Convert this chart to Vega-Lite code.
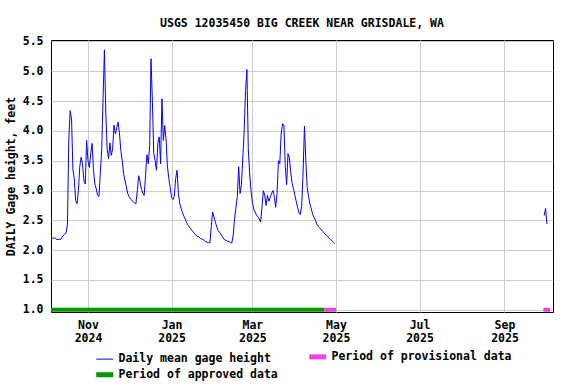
{
  "$schema": "https://vega.github.io/schema/vega-lite/v6.json",
  "width": 502,
  "height": 272,
  "autosize": {"type": "none"},
  "padding": {"left": 51, "top": 40, "right": 23, "bottom": 72},
  "background": "white",
  "title": {"text": "USGS 12035450 BIG CREEK NEAR GRISDALE, WA", "font": "DejaVu Sans Mono", "fontSize": 11.5, "fontWeight": "bold", "color": "black", "offset": 6, "anchor": "middle"},
  "config": {
    "view": {"stroke": "black", "strokeWidth": 1},
    "axis": {"labelFont": "DejaVu Sans Mono", "labelFontWeight": "bold", "labelFontSize": 11.5, "labelColor": "black", "titleFont": "DejaVu Sans Mono", "titleFontWeight": "bold", "titleFontSize": 11.5, "titleColor": "black", "gridColor": "#cccccc", "gridWidth": 1, "gridOpacity": 1, "ticks": false, "domain": false, "labelOverlap": false}
  },
  "datasets": {
    "gage": [
      {"date":"2024-10-05","v":2.20},{"date":"2024-10-06","v":2.20},{"date":"2024-10-07","v":2.20},{"date":"2024-10-08","v":2.21},{"date":"2024-10-09","v":2.18},{"date":"2024-10-10","v":2.18},{"date":"2024-10-11","v":2.18},{"date":"2024-10-12","v":2.18},{"date":"2024-10-13","v":2.22},{"date":"2024-10-14","v":2.25},{"date":"2024-10-15","v":2.27},{"date":"2024-10-16","v":2.29},{"date":"2024-10-17","v":2.43},{"date":"2024-10-18","v":3.86},{"date":"2024-10-19","v":4.34},{"date":"2024-10-20","v":4.20},{"date":"2024-10-21","v":3.35},{"date":"2024-10-22","v":3.20},{"date":"2024-10-23","v":2.83},{"date":"2024-10-24","v":2.78},{"date":"2024-10-25","v":3.00},{"date":"2024-10-26","v":3.40},{"date":"2024-10-27","v":3.56},{"date":"2024-10-28","v":3.45},{"date":"2024-10-29","v":3.17},{"date":"2024-10-30","v":3.11},{"date":"2024-10-31","v":3.84},
      {"date":"2024-11-01","v":3.50},{"date":"2024-11-02","v":3.39},{"date":"2024-11-03","v":3.62},{"date":"2024-11-04","v":3.79},{"date":"2024-11-05","v":3.35},{"date":"2024-11-06","v":3.11},{"date":"2024-11-07","v":3.03},{"date":"2024-11-08","v":2.92},{"date":"2024-11-09","v":2.90},{"date":"2024-11-10","v":3.29},{"date":"2024-11-11","v":3.68},{"date":"2024-11-12","v":4.54},{"date":"2024-11-13","v":5.36},{"date":"2024-11-14","v":4.30},{"date":"2024-11-15","v":3.70},{"date":"2024-11-16","v":3.53},{"date":"2024-11-17","v":3.80},{"date":"2024-11-18","v":3.59},{"date":"2024-11-19","v":3.70},{"date":"2024-11-20","v":4.10},{"date":"2024-11-21","v":3.95},{"date":"2024-11-22","v":4.05},{"date":"2024-11-23","v":4.15},{"date":"2024-11-24","v":3.95},{"date":"2024-11-25","v":3.67},{"date":"2024-11-26","v":3.50},{"date":"2024-11-27","v":3.28},{"date":"2024-11-28","v":3.17},{"date":"2024-11-29","v":3.06},{"date":"2024-11-30","v":2.95},
      {"date":"2024-12-01","v":2.90},{"date":"2024-12-02","v":2.86},{"date":"2024-12-03","v":2.84},{"date":"2024-12-04","v":2.81},{"date":"2024-12-05","v":2.79},{"date":"2024-12-06","v":2.78},{"date":"2024-12-07","v":3.00},{"date":"2024-12-08","v":3.25},{"date":"2024-12-09","v":3.15},{"date":"2024-12-10","v":3.02},{"date":"2024-12-11","v":2.96},{"date":"2024-12-12","v":2.92},{"date":"2024-12-13","v":3.25},{"date":"2024-12-14","v":3.60},{"date":"2024-12-15","v":3.45},{"date":"2024-12-16","v":3.75},{"date":"2024-12-17","v":5.21},{"date":"2024-12-18","v":4.50},{"date":"2024-12-19","v":3.62},{"date":"2024-12-20","v":3.50},{"date":"2024-12-21","v":3.34},{"date":"2024-12-22","v":3.80},{"date":"2024-12-23","v":3.90},{"date":"2024-12-24","v":3.45},{"date":"2024-12-25","v":4.54},{"date":"2024-12-26","v":3.84},{"date":"2024-12-27","v":4.09},{"date":"2024-12-28","v":3.85},{"date":"2024-12-29","v":3.40},{"date":"2024-12-30","v":3.20},{"date":"2024-12-31","v":3.05},
      {"date":"2025-01-01","v":2.88},{"date":"2025-01-02","v":2.85},{"date":"2025-01-03","v":2.90},{"date":"2025-01-04","v":3.20},{"date":"2025-01-05","v":3.34},{"date":"2025-01-06","v":2.95},{"date":"2025-01-07","v":2.78},{"date":"2025-01-08","v":2.70},{"date":"2025-01-09","v":2.63},{"date":"2025-01-10","v":2.57},{"date":"2025-01-11","v":2.52},{"date":"2025-01-12","v":2.46},{"date":"2025-01-13","v":2.42},{"date":"2025-01-14","v":2.39},{"date":"2025-01-15","v":2.36},{"date":"2025-01-16","v":2.33},{"date":"2025-01-17","v":2.30},{"date":"2025-01-18","v":2.27},{"date":"2025-01-19","v":2.25},{"date":"2025-01-20","v":2.23},{"date":"2025-01-21","v":2.22},{"date":"2025-01-22","v":2.20},{"date":"2025-01-23","v":2.19},{"date":"2025-01-24","v":2.18},{"date":"2025-01-25","v":2.16},{"date":"2025-01-26","v":2.14},{"date":"2025-01-27","v":2.13},{"date":"2025-01-28","v":2.13},{"date":"2025-01-29","v":2.12},{"date":"2025-01-30","v":2.40},{"date":"2025-01-31","v":2.64},
      {"date":"2025-02-01","v":2.55},{"date":"2025-02-02","v":2.47},{"date":"2025-02-03","v":2.39},{"date":"2025-02-04","v":2.33},{"date":"2025-02-05","v":2.30},{"date":"2025-02-06","v":2.27},{"date":"2025-02-07","v":2.23},{"date":"2025-02-08","v":2.19},{"date":"2025-02-09","v":2.17},{"date":"2025-02-10","v":2.16},{"date":"2025-02-11","v":2.15},{"date":"2025-02-12","v":2.14},{"date":"2025-02-13","v":2.13},{"date":"2025-02-14","v":2.12},{"date":"2025-02-15","v":2.25},{"date":"2025-02-16","v":2.53},{"date":"2025-02-17","v":2.72},{"date":"2025-02-18","v":2.90},{"date":"2025-02-19","v":3.40},{"date":"2025-02-20","v":2.95},{"date":"2025-02-21","v":3.10},{"date":"2025-02-22","v":3.55},{"date":"2025-02-23","v":4.00},{"date":"2025-02-24","v":4.68},{"date":"2025-02-25","v":5.03},{"date":"2025-02-26","v":3.70},{"date":"2025-02-27","v":3.28},{"date":"2025-02-28","v":3.00},
      {"date":"2025-03-01","v":2.80},{"date":"2025-03-02","v":2.69},{"date":"2025-03-03","v":2.64},{"date":"2025-03-04","v":2.59},{"date":"2025-03-05","v":2.56},{"date":"2025-03-06","v":2.53},{"date":"2025-03-07","v":2.47},{"date":"2025-03-08","v":2.72},{"date":"2025-03-09","v":3.00},{"date":"2025-03-10","v":2.92},{"date":"2025-03-11","v":2.75},{"date":"2025-03-12","v":2.92},{"date":"2025-03-13","v":2.82},{"date":"2025-03-14","v":2.88},{"date":"2025-03-15","v":2.95},{"date":"2025-03-16","v":3.00},{"date":"2025-03-17","v":2.90},{"date":"2025-03-18","v":2.72},{"date":"2025-03-19","v":2.95},{"date":"2025-03-20","v":3.50},{"date":"2025-03-21","v":3.45},{"date":"2025-03-22","v":3.95},{"date":"2025-03-23","v":4.12},{"date":"2025-03-24","v":4.10},{"date":"2025-03-25","v":3.40},{"date":"2025-03-26","v":3.10},{"date":"2025-03-27","v":3.62},{"date":"2025-03-28","v":3.55},{"date":"2025-03-29","v":3.30},{"date":"2025-03-30","v":3.12},{"date":"2025-03-31","v":3.03},
      {"date":"2025-04-01","v":2.92},{"date":"2025-04-02","v":2.82},{"date":"2025-04-03","v":2.72},{"date":"2025-04-04","v":2.62},{"date":"2025-04-05","v":2.60},{"date":"2025-04-06","v":2.75},{"date":"2025-04-07","v":3.30},{"date":"2025-04-08","v":4.08},{"date":"2025-04-09","v":3.50},{"date":"2025-04-10","v":3.05},{"date":"2025-04-11","v":2.90},{"date":"2025-04-12","v":2.78},{"date":"2025-04-13","v":2.69},{"date":"2025-04-14","v":2.60},{"date":"2025-04-15","v":2.55},{"date":"2025-04-16","v":2.50},{"date":"2025-04-17","v":2.44},{"date":"2025-04-18","v":2.40},{"date":"2025-04-19","v":2.38},{"date":"2025-04-20","v":2.35},{"date":"2025-04-21","v":2.32},{"date":"2025-04-22","v":2.30},{"date":"2025-04-23","v":2.27},{"date":"2025-04-24","v":2.25},{"date":"2025-04-25","v":2.23},{"date":"2025-04-26","v":2.20},{"date":"2025-04-27","v":2.18},{"date":"2025-04-28","v":2.16},{"date":"2025-04-29","v":2.14},{"date":"2025-04-30","v":2.11}
    ],
    "gage_end": [
      {"date":"2025-09-30","v":2.58},{"date":"2025-10-01","v":2.70},{"date":"2025-10-02","v":2.44}
    ],
    "periods": [
      {"start":"2024-10-05T00:00:00Z","end":"2025-04-22T12:00:00Z","status":"Period of approved data"},
      {"start":"2025-04-22T12:00:00Z","end":"2025-05-01T04:00:00Z","status":"Period of provisional data"},
      {"start":"2025-09-29T10:00:00Z","end":"2025-10-04T07:00:00Z","status":"Period of provisional data"}
    ]
  },
  "encoding": {
    "x": {
      "type": "temporal",
      "scale": {"type": "utc", "domain": [{"year": 2024, "month": 10, "date": 5, "utc": true}, {"year": 2025, "month": 10, "date": 6, "hours": 10, "utc": true}]},
      "axis": {
        "title": null,
        "grid": true,
        "values": [{"year": 2024, "month": 11, "date": 1, "utc": true}, {"year": 2025, "month": 1, "date": 1, "utc": true}, {"year": 2025, "month": 3, "date": 1, "utc": true}, {"year": 2025, "month": 5, "date": 1, "utc": true}, {"year": 2025, "month": 7, "date": 1, "utc": true}, {"year": 2025, "month": 9, "date": 1, "utc": true}],
        "labelExpr": "[utcFormat(datum.value, '%b'), utcFormat(datum.value, '%Y')]",
        "labelPadding": 7,
        "labelLineHeight": 13
      }
    },
    "y": {
      "type": "quantitative",
      "scale": {"domain": [0.963, 5.525], "nice": false, "zero": false},
      "axis": {"title": "DAILY Gage height, feet", "values": [1, 1.5, 2, 2.5, 3, 3.5, 4, 4.5, 5, 5.5], "format": ".1f", "grid": true, "labelPadding": 8, "titlePadding": 6}
    },
    "color": {
      "type": "nominal",
      "scale": {"domain": ["Daily mean gage height", "Period of approved data", "Period of provisional data"], "range": ["#0000ff", "#009900", "#ee44dd"]},
      "legend": {
        "title": null,
        "orient": "none",
        "legendX": 48,
        "legendY": 311,
        "columns": 2,
        "symbolType": "stroke",
        "symbolSize": 289,
        "symbolStrokeWidth": 5,
        "labelOffset": 8,
        "columnPadding": 21,
        "rowPadding": -3,
        "padding": 0,
        "labelLimit": 400,
        "labelFont": "DejaVu Sans Mono",
        "labelFontWeight": "bold",
        "labelFontSize": 11.5,
        "labelColor": "black",
        "encode": {"symbols": {"update": {"strokeWidth": {"signal": "datum.value === 'Daily mean gage height' ? 1 : 5"}}}}
      }
    }
  },
  "layer": [
    {
      "data": {"name": "periods"},
      "mark": {"type": "rule", "strokeWidth": 4},
      "encoding": {
        "x": {"field": "start"},
        "x2": {"field": "end"},
        "y": {"datum": 1.0},
        "color": {"field": "status"}
      }
    },
    {
      "data": {"name": "gage"},
      "mark": {"type": "line", "strokeWidth": 1},
      "encoding": {
        "x": {"field": "date"},
        "y": {"field": "v"},
        "color": {"datum": "Daily mean gage height"}
      }
    },
    {
      "data": {"name": "gage_end"},
      "mark": {"type": "line", "strokeWidth": 1},
      "encoding": {
        "x": {"field": "date"},
        "y": {"field": "v"},
        "color": {"datum": "Daily mean gage height"}
      }
    }
  ]
}
